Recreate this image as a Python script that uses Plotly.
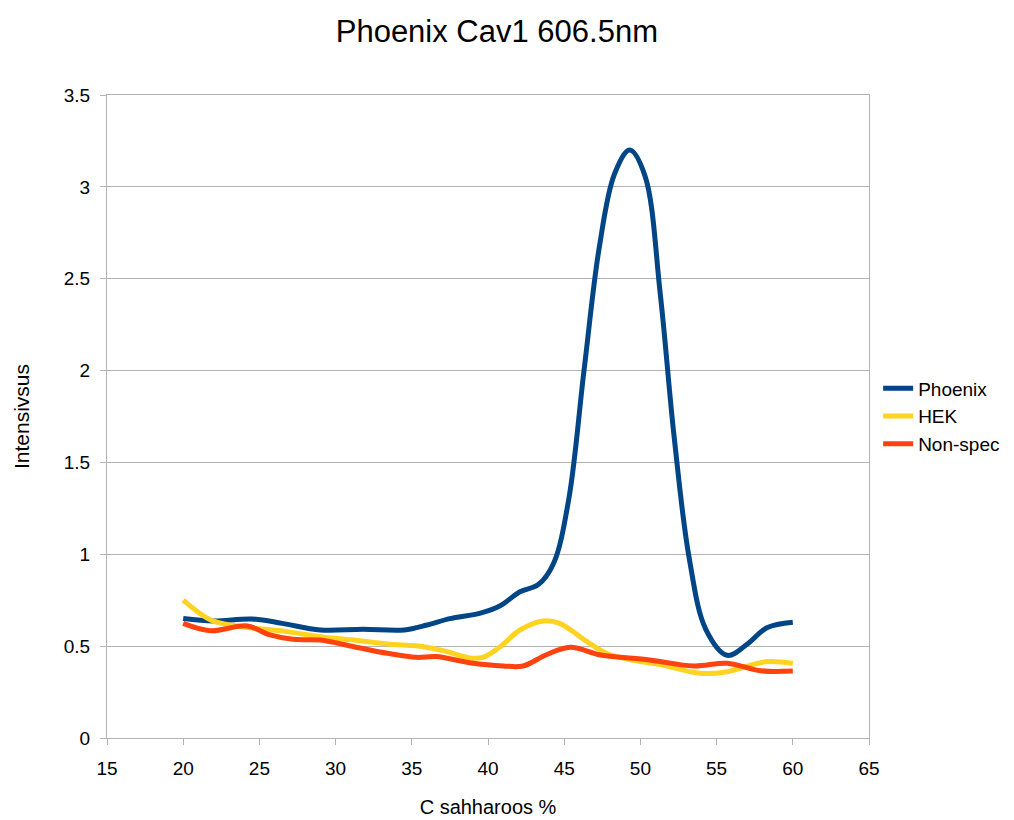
import plotly.graph_objects as go

# Data
phoenix_x = [20, 22, 24.5, 26.5, 29, 31.8, 34.5, 36, 37.5, 39.5, 40.8, 42.1, 43.3, 44.3, 45.3, 46.3, 47.3,
             48.3, 49.3, 50.3, 51.3, 52.2, 53.2, 54.3, 55.7, 57, 58.3, 60]
phoenix_y = [0.65, 0.637, 0.648, 0.624, 0.588, 0.592, 0.588, 0.615, 0.65, 0.68, 0.72, 0.796, 0.835, 0.95, 1.3,
             2.0, 2.67, 3.07, 3.2, 3.06, 2.42, 1.65, 0.98, 0.59, 0.45, 0.51, 0.6, 0.63]

hek_x = [20, 21.8, 23.5, 26.8, 29, 31.2, 33.4, 35.8, 37.3, 38.8, 39.7, 40.8, 42.1, 43.6, 44.7, 46.5, 47.8, 49.3,
         51.5, 53.9, 55.7, 58.2, 60]
hek_y = [0.75, 0.642, 0.61, 0.579, 0.551, 0.533, 0.512, 0.497, 0.47, 0.436, 0.44, 0.497, 0.588, 0.637, 0.624, 0.524,
         0.46, 0.427, 0.396, 0.352, 0.361, 0.415, 0.406]

nonspec_x = [20, 21.8, 24.2, 25.7, 27.2, 29, 31.2, 33.4, 35.3, 36.6, 38.8, 41, 42.3, 43.8, 45.4, 47.4, 50.6, 53.5,
             55.7, 57.9, 60]
nonspec_y = [0.624, 0.584, 0.61, 0.561, 0.537, 0.533, 0.497, 0.461, 0.439, 0.443, 0.41, 0.392, 0.392, 0.452, 0.494,
             0.452, 0.425, 0.392, 0.407, 0.366, 0.365]

x_ticks = [15, 20, 25, 30, 35, 40, 45, 50, 55, 60, 65]
y_ticks = [0, 0.5, 1, 1.5, 2, 2.5, 3, 3.5]

FONT = "Liberation Sans, Arial, sans-serif"

fig = go.Figure()
for name, xs, ys, color in [
    ("Phoenix", phoenix_x, phoenix_y, "#004586"),
    ("HEK", hek_x, hek_y, "#ffd320"),
    ("Non-spec", nonspec_x, nonspec_y, "#ff420e"),
]:
    fig.add_trace(go.Scatter(
        x=xs, y=ys, name=name, mode="lines",
        line=dict(color=color, width=5, shape="spline", smoothing=1.0),
    ))

fig.update_layout(
    width=1014, height=820,
    paper_bgcolor="white", plot_bgcolor="white",
    margin=dict(l=107, r=145, t=95, b=82, autoexpand=False),
    font=dict(family=FONT, size=19, color="#000000"),
    title=dict(text="Phoenix Cav1 606.5nm", x=0.49, xanchor="center", y=0.962, yanchor="middle",
               font=dict(family=FONT, size=31, color="#000000")),
    legend=dict(x=1.012, xanchor="left", y=0.5, yanchor="middle",
                font=dict(family=FONT, size=19, color="#000000"),
                bgcolor="rgba(0,0,0,0)", itemwidth=30, tracegroupgap=0),
    showlegend=True,
)
fig.update_xaxes(
    range=[15, 65], tickvals=x_ticks, ticktext=[str(v) for v in x_ticks],
    showgrid=False, zeroline=False, automargin=False,
    showline=True, linecolor="#b3b3b3", linewidth=1, mirror=True,
    ticks="outside", ticklen=6, tickcolor="#b3b3b3", ticklabelstandoff=7,
    tickfont=dict(family=FONT, size=19, color="#000000"),
    title=dict(text="C sahharoos %", font=dict(family=FONT, size=20, color="#000000"), standoff=22),
)
fig.update_yaxes(
    range=[0, 3.5], tickvals=y_ticks, ticktext=[f"{v:g}" for v in y_ticks],
    showgrid=True, gridcolor="#b3b3b3", gridwidth=1, zeroline=False, automargin=False,
    showline=True, linecolor="#b3b3b3", linewidth=1, mirror=True,
    ticks="outside", ticklen=6, tickcolor="#b3b3b3", ticklabelstandoff=6,
    tickfont=dict(family=FONT, size=19, color="#000000"),
    title=dict(text="Intensivsus", font=dict(family=FONT, size=21, color="#000000"), standoff=28),
)

fig.write_html("out.html")
